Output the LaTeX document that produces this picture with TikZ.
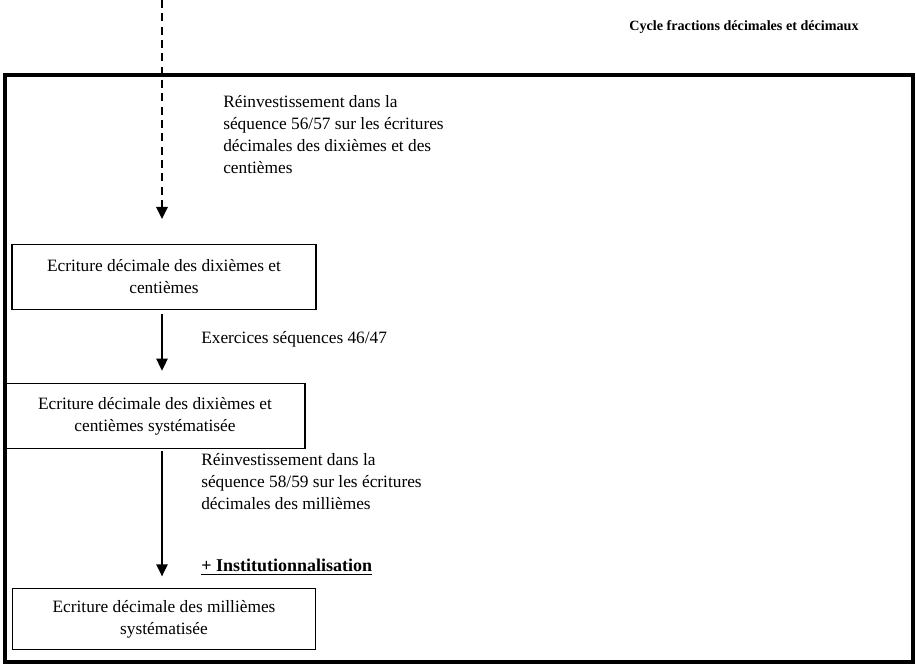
\documentclass[tikz,border=0pt]{standalone}
\usepackage{fontspec}
\setmainfont{Liberation Serif}
\usetikzlibrary{arrows.meta,positioning}

\tikzset{
  etape/.style={draw, line width=1pt, minimum height=49pt, align=center, inner sep=2pt},
  legende/.style={anchor=north west, align=left, inner sep=0pt},
  fleche/.style={-{Triangle[length=9pt,width=8.5pt]}, line width=1.2pt},
}

\begin{document}
\begin{tikzpicture}[x=0.75pt, y=-0.75pt, font=\fontsize{13}{16.5}\selectfont]
		\useasboundingbox (0,0) rectangle (916,666);
		% cadre
		\draw[line width=3pt] (5,75) rectangle (913,662);
		\node[font=\fontsize{10.6}{13}\selectfont\bfseries] (titre) at (744,27) {Cycle fractions d\'ecimales et d\'ecimaux};
		% etapes
		\node[etape, minimum width=228pt] (dixiemes) at (164,277) {Ecriture d\'ecimale des dixi\`emes et\\centi\`emes};
		\node[etape, minimum width=225pt] (syst) at (155,416) {Ecriture d\'ecimale des dixi\`emes et\\centi\`emes syst\'ematis\'ee};
		\node[etape, minimum width=227pt, minimum height=46pt] (milliemes) at (164,619) {Ecriture d\'ecimale des milli\`emes\\syst\'ematis\'ee};
		% fleches
		\coordinate (haut) at (162,0);
		\coordinate (bout) at (162,219);
		\draw[fleche, dashed, dash pattern=on 6pt off 4pt] (haut) -- (bout);
		\draw[fleche] ([yshift=-3pt]dixiemes.south -| haut) -- ([yshift=9pt]syst.north -| haut);
		\draw[fleche] ([yshift=-1pt]syst.south -| haut) -- ([yshift=8.5pt]milliemes.north -| haut);
		% textes
		\node[legende] (reinv1) at (223,95) {R\'einvestissement dans la\\s\'equence 56/57 sur les \'ecritures\\d\'ecimales des dixi\`emes et des\\centi\`emes};
		\node[legende] (exos) at (201,331) {Exercices s\'equences 46/47};
		\node[legende] (reinv2) at (201,453) {R\'einvestissement dans la\\s\'equence 58/59 sur les \'ecritures\\d\'ecimales des milli\`emes};
		\node[legende, font=\fontsize{13.5}{15}\selectfont\bfseries] (instit) at (201,559) {\underline{+ Institutionnalisation}};
	\end{tikzpicture}
\end{document}
